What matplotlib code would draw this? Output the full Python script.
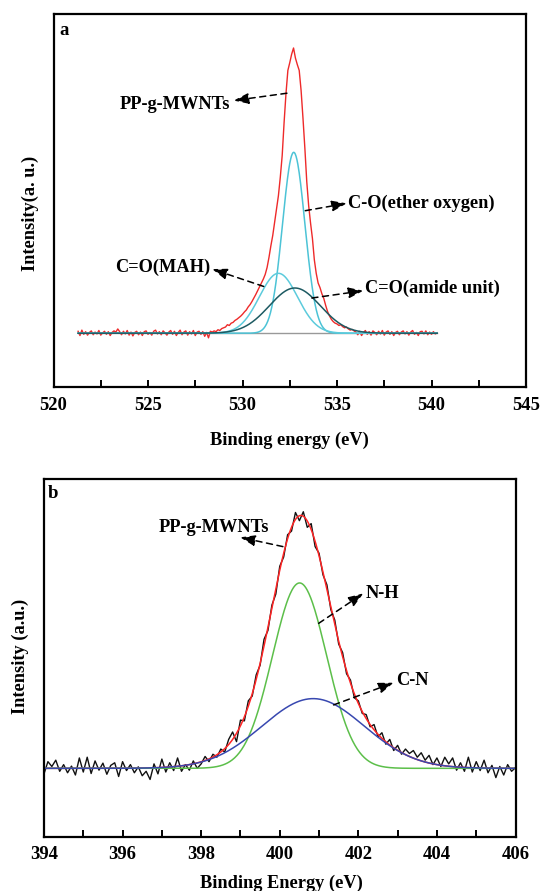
import numpy as np
import matplotlib
matplotlib.use("Agg")
import matplotlib.pyplot as plt
from matplotlib.ticker import MultipleLocator

plt.rcParams["font.family"] = ["Liberation Serif", "DejaVu Serif"]
plt.rcParams["font.weight"] = "bold"

# ---- panel a: O 1s spectrum (measured, 0.1 eV steps from 521.3 eV) ----
o1s_start = 521.3
o1s_step = 0.1
o1s_counts = [
    5, -6, 8, -3, 4, -5, 2, 6, -4, 3,
    -2, 7, -5, 1, 5, -3, 4, -6, 2, 6,
    3, 11, 4, -4, 5, -2, 7, -5, 3, -7,
    2, 5, -4, 3, -6, 4, 6, -3, 2, -5,
    5, 8, -2, 4, -4, 6, 1, -5, 3, 7,
    -3, 5, -6, 2, 8, -4, 3, 6, -5, 4,
    -2, 7, -6, 3, 5, -3, 4, -8, 2, -12,
    5, 3, 6, 4, 9, 7, 12, 14, 16, 22,
    20, 26, 28, 33, 36, 40, 44, 49, 55, 60,
    68, 74, 82, 91, 100, 110, 120, 130, 140, 152,
    170, 196, 226, 253, 287, 322, 356, 404, 460, 545,
    620, 680, 700, 722, 738, 712, 695, 680, 628, 556,
    478, 392, 330, 285, 245, 190, 155, 130, 118, 102,
    90, 72, 56, 45, 36, 30, 26, 24, 20, 22,
    17, 14, 16, 11, 8, 10, 6, 3, -4, 5,
    -6, 2, 7, -3, 4, -5, 6, 2, -4, 5,
    -2, 7, -5, 3, 6, -3, 4, -6, 2, 5,
    -4, 3, 6, -2, 4, -5, 3, 7, -3, 2,
    -6, 4, 5, -2, 6, -4, 3, -3, 4, -2,
    1,
]
# fitted components: name, centre (eV), height, sigma (eV)
o1s_names = ["C-O(ether oxygen)", "C=O(MAH)", "C=O(amide unit)"]
o1s_centres = [532.71, 531.90, 532.77]
o1s_heights = [468, 155, 117]
o1s_sigmas = [0.59, 1.01, 1.35]
o1s_colors = ["#4cc3d6", "#5ccbdc", "#1d5a62"]

# ---- panel b: N 1s spectrum (measured, 0.1 eV steps from 394.0 eV) ----
n1s_start = 394.0
n1s_step = 0.1
n1s_counts = [
    -15, 18, 5, 22, -8, 10, -12, 6, -18, 28,
    -10, 30, -14, 20, -5, 14, -16, 8, 15, -22,
    18, -6, 10, -12, 4, -20, -8, -30, 12, -15,
    25, -10, 15, -6, 28, -8, 10, -5, 20, 0,
    12, 32, 18, 38, 30, 52, 44, 78, 98, 72,
    130, 128, 182, 195, 252, 278, 348, 372, 440, 470,
    545, 570, 630, 640, 690, 668, 692, 650, 660, 598,
    580, 522, 495, 428, 400, 335, 312, 255, 238, 190,
    182, 148, 145, 112, 118, 85, 96, 65, 78, 48,
    62, 38, 52, 40, 48, 30, 42, 22, 35, 10,
    28, 5, 30, 12, 28, -5, 15, -8, 30, -10,
    18, -6, 22, -12, 8, -25, 5, -18, 10, -8,
    2,
]
n1s_names = ["N-H", "C-N"]
n1s_centres = [400.505, 400.85]
n1s_heights = [500, 188]
n1s_sigmas = [0.69, 1.30]
n1s_colors = ["#5cbf4a", "#3848b0"]


def gauss(x, c, h, s):
    return h * np.exp(-((x - c) ** 2) / (2 * s ** 2))


fig = plt.figure(figsize=(5.41, 8.91), dpi=100)
ax1 = fig.add_axes([0.0989, 0.5653, 0.8734, 0.4190])
ax2 = fig.add_axes([0.0813, 0.0609, 0.8716, 0.4012])

arrow = dict(arrowstyle="-|>,head_length=0.7,head_width=0.25",
             linestyle=(0, (4, 3)), color="black",
             lw=1.1, mutation_scale=13, shrinkA=0, shrinkB=0)
fs = 13.2
txt = dict(fontsize=fs, fontweight="bold", va="center")

# ---------------- panel a ----------------
xa = o1s_start + o1s_step * np.arange(len(o1s_counts))
ax1.plot(xa, o1s_counts, color="#ee2a2a", lw=1.0)
xf = np.linspace(xa[0], xa[-1], 800)
ax1.plot(xf, np.zeros_like(xf), color="#999999", lw=1.0)
for c, h, s, col in zip(o1s_centres, o1s_heights, o1s_sigmas, o1s_colors):
    ax1.plot(xf, gauss(xf, c, h, s), color=col, lw=1.1)

ax1.set_xlim(520, 545)
ax1.set_ylim(-140, 826)
ax1.xaxis.set_major_locator(MultipleLocator(5))
ax1.xaxis.set_minor_locator(MultipleLocator(2.5))
ax1.set_xlabel("Binding energy (eV)", fontsize=fs, fontweight="bold")
ax1.set_ylabel("Intensity(a. u.)", fontsize=fs, fontweight="bold")
ax1.xaxis.set_label_coords(0.5, -0.12)
ax1.yaxis.set_label_coords(-0.031, 0.466)
ax1.text(0.022, 0.957, "a", transform=ax1.transAxes, fontsize=13.5,
         fontweight="bold", va="center", ha="center")

ax1.annotate("", xy=(529.53, 602), xytext=(532.35, 621), arrowprops=arrow)
ax1.text(529.35, 593, "PP-g-MWNTs", ha="right", **txt)
ax1.annotate("", xy=(535.52, 336), xytext=(533.32, 317), arrowprops=arrow)
ax1.text(535.6, 337, o1s_names[0], ha="left", **txt)
ax1.annotate("", xy=(528.39, 166), xytext=(531.12, 121), arrowprops=arrow)
ax1.text(528.3, 170, o1s_names[1], ha="right", **txt)
ax1.annotate("", xy=(536.4, 110), xytext=(533.67, 91), arrowprops=arrow)
ax1.text(536.5, 116, o1s_names[2], ha="left", **txt)

# ---------------- panel b ----------------
xb = n1s_start + n1s_step * np.arange(len(n1s_counts))
ax2.plot(xb, n1s_counts, color="#111111", lw=1.0)
xg = np.linspace(394, 406, 800)
comps = [gauss(xg, c, h, s) for c, h, s in zip(n1s_centres, n1s_heights, n1s_sigmas)]
ax2.plot(xg, np.sum(comps, axis=0), color="#ff2424", lw=1.1)
for comp, col in zip(comps, n1s_colors):
    ax2.plot(xg, comp, color=col, lw=1.1)

ax2.set_xlim(394, 406)
ax2.set_ylim(-184.5, 779.6)
ax2.xaxis.set_major_locator(MultipleLocator(2))
ax2.xaxis.set_minor_locator(MultipleLocator(1))
ax2.set_xlabel("Binding Energy (eV)", fontsize=fs, fontweight="bold")
ax2.set_ylabel("Intensity (a.u.)", fontsize=fs, fontweight="bold")
ax2.xaxis.set_label_coords(0.503, -0.106)
ax2.yaxis.set_label_coords(-0.031, 0.504)
ax2.text(0.02, 0.961, "b", transform=ax2.transAxes, fontsize=13.5,
         fontweight="bold", va="center", ha="center")

ax2.annotate("", xy=(398.99, 623), xytext=(400.08, 598), arrowprops=arrow)
ax2.text(399.73, 650, "PP-g-MWNTs", ha="right", **txt)
ax2.annotate("", xy=(402.13, 472), xytext=(400.99, 391), arrowprops=arrow)
ax2.text(402.18, 472, n1s_names[0], ha="left", **txt)
ax2.annotate("", xy=(402.90, 231), xytext=(401.37, 171), arrowprops=arrow)
ax2.text(402.97, 238, n1s_names[1], ha="left", **txt)

for ax in (ax1, ax2):
    ax.set_yticks([])
    for sp in ax.spines.values():
        sp.set_linewidth(1.6)
    ax.tick_params(axis="x", which="major", direction="in", length=5,
                   width=1.4, labelsize=13.4, pad=7)
    ax.tick_params(axis="x", which="minor", direction="in", length=5,
                   width=1.4)
    for lab in ax.get_xticklabels():
        lab.set_fontweight("bold")

fig.savefig("out.png", dpi=100)
